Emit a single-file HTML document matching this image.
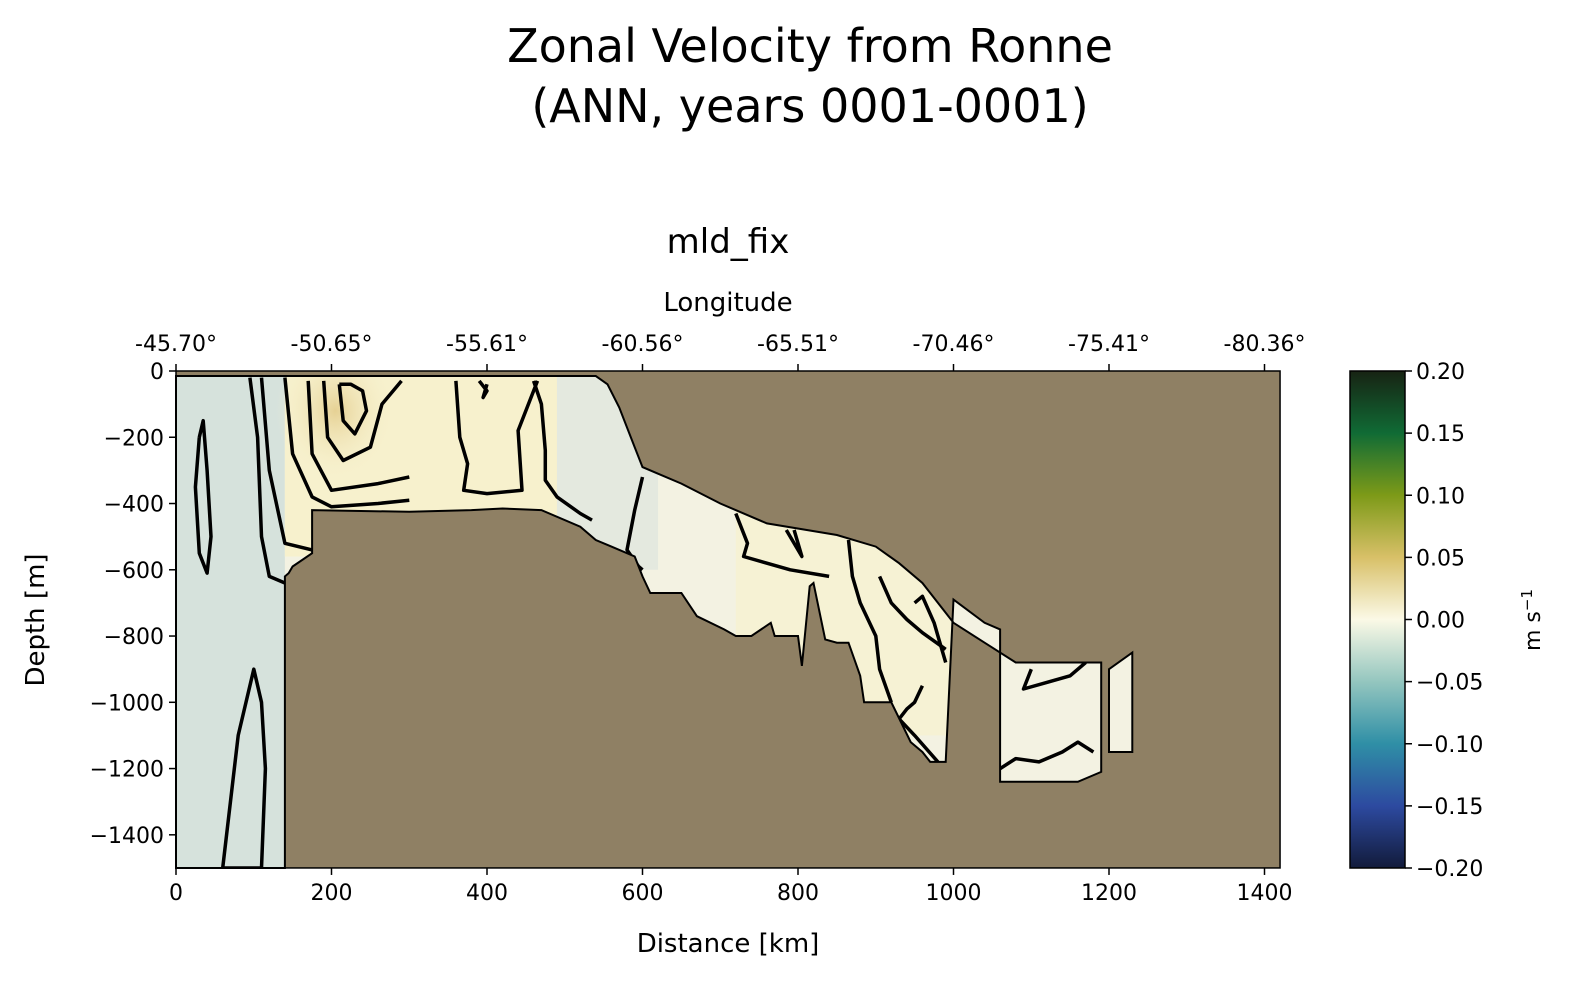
<!DOCTYPE html>
<html><head><meta charset="utf-8"><style>
html,body{margin:0;padding:0;background:#fff;overflow:hidden;width:1586px;height:990px;}
svg{display:block;}
svg text{font-family:"DejaVu Sans","Liberation Sans",sans-serif;fill:#000;}
</style></head><body>
<svg id="chart" width="1586" height="990" viewBox="0 0 1586 990" xmlns="http://www.w3.org/2000/svg">
<defs>
<linearGradient id="cbar" x1="0" y1="1" x2="0" y2="0">
<stop offset="0" stop-color="#121b3b"/><stop offset="0.125" stop-color="#2d4aa0"/>
<stop offset="0.25" stop-color="#2f8fa6"/><stop offset="0.375" stop-color="#94c6bf"/>
<stop offset="0.5" stop-color="#fbf9e6"/><stop offset="0.625" stop-color="#d8c068"/>
<stop offset="0.75" stop-color="#7d9a18"/><stop offset="0.875" stop-color="#106b35"/>
<stop offset="1" stop-color="#172313"/></linearGradient>
<radialGradient id="core" cx="0.5" cy="0.5" r="0.5"><stop offset="0" stop-color="#e6d194"/><stop offset="1" stop-color="#f7f1cf" stop-opacity="0"/></radialGradient>
<clipPath id="waterclip"><path id="wclip"/></clipPath>
</defs>
<text x="810" y="62" font-size="46" text-anchor="middle">Zonal Velocity from Ronne</text>
<text x="810" y="122" font-size="46" text-anchor="middle">(ANN, years 0001-0001)</text>
<text x="728" y="253" font-size="34" text-anchor="middle">mld_fix</text>
<text x="728" y="311" font-size="26" text-anchor="middle">Longitude</text>
<text x="728" y="952" font-size="26" text-anchor="middle">Distance [km]</text>
<text x="44" y="620" font-size="26" text-anchor="middle" transform="rotate(-90 44 620)">Depth [m]</text>
<g id="plot"></g>
<g id="axes"></g>
<rect x="1350" y="371" width="55" height="497" fill="url(#cbar)" stroke="#000" stroke-width="1.5"/>
<g id="cbticks"></g>
<text x="1540" y="620" font-size="22" text-anchor="middle" transform="rotate(-90 1540 620)">m s<tspan dy="-8" font-size="15">−1</tspan></text>
</svg>
<script>
const xTicks=[0,200,400,600,800,1000,1200,1400];
const yTicks=[0,-200,-400,-600,-800,-1000,-1200,-1400];
const lonLabels=["-45.70°","-50.65°","-55.61°","-60.56°","-65.51°","-70.46°","-75.41°","-80.36°"];
const cbTicks=[0.20,0.15,0.10,0.05,0.00,-0.05,-0.10,-0.15,-0.20];
const iceDist=[0,540,555,570,590,600,620,650,700,760,850,900,930,960,1000,1040,1080,1190];
const iceDepth=[-15,-15,-40,-110,-230,-290,-310,-340,-400,-460,-495,-530,-580,-640,-760,-820,-880,-880];
const bedDist=[1190,1190,1160,1060,1060,1040,1000,990,970,960,945,920,885,880,865,850,835,820,815,805,800,790,770,765,740,720,705,670,650,610,600,590,560,540,520,470,420,380,300,175,175,150,145,140,140,0];
const bedDepth=[-880,-1210,-1240,-1240,-780,-760,-690,-1180,-1180,-1150,-1120,-1000,-1000,-920,-820,-820,-810,-640,-650,-890,-800,-800,-800,-760,-800,-800,-780,-740,-670,-670,-620,-560,-530,-510,-470,-420,-415,-420,-425,-420,-550,-590,-610,-620,-1500,-1500];
const pieceDist=[1200,1230,1230,1200];
const pieceDepth=[-900,-850,-1150,-1150];
const contours=[
 {d:[30,35,40,45,40,30,25,30],z:[-200,-150,-300,-500,-610,-550,-350,-200]},
 {d:[60,80,100,110,115,110,80,60],z:[-1500,-1100,-900,-1000,-1200,-1500,-1500,-1500]},
 {d:[95,105,110,120,140],z:[-20,-200,-500,-620,-640]},
 {d:[110,120,140,175],z:[-20,-300,-520,-540]},
 {d:[140,150,175,200,260,300],z:[-20,-250,-380,-410,-400,-390]},
 {d:[170,175,200,260,300],z:[-30,-250,-360,-340,-320]},
 {d:[190,195,215,250,265,290],z:[-30,-200,-270,-230,-100,-30]},
 {d:[210,215,230,245,240,225,210],z:[-40,-150,-190,-120,-60,-40,-40]},
 {d:[360,365,375,370,400,445,440,465],z:[-30,-200,-280,-360,-370,-360,-180,-30]},
 {d:[390,400,395,400],z:[-30,-60,-80,-40]},
 {d:[460,470,475,475,490,520,535],z:[-30,-100,-240,-330,-380,-430,-450]},
 {d:[600,590,580,595,600],z:[-320,-420,-540,-590,-600]},
 {d:[720,735,730,760,790,840],z:[-430,-520,-560,-580,-600,-620]},
 {d:[785,800,805,800,795],z:[-480,-540,-560,-520,-480]},
 {d:[865,870,880,900,905,920],z:[-510,-620,-700,-800,-900,-1000]},
 {d:[905,920,940,960,990],z:[-620,-700,-750,-790,-840]},
 {d:[950,960,975,985,990],z:[-700,-680,-760,-840,-880]},
 {d:[960,950,940,930,950,980],z:[-950,-1000,-1020,-1050,-1100,-1180]},
 {d:[1060,1080,1110,1140,1160,1180],z:[-1200,-1170,-1180,-1150,-1120,-1150]},
 {d:[1100,1090,1120,1150,1170],z:[-900,-960,-940,-920,-880]}
];
const X0=176,XK=0.7775,Y0=371,YK=0.3313;
function sx(d){return X0+d*XK;}
function sy(z){return Y0-z*YK;}
const NS="http://www.w3.org/2000/svg";
function mk(tag,attrs,parent){const e=document.createElementNS(NS,tag);for(const k in attrs)e.setAttribute(k,attrs[k]);parent.appendChild(e);return e;}
function pathFrom(ds,zs,close){let s="";for(let i=0;i<ds.length;i++)s+=(i?"L":"M")+sx(ds[i]).toFixed(1)+","+sy(zs[i]).toFixed(1);return s+(close?"Z":"");}
const plot=document.getElementById("plot");
const pLeft=sx(0),pRight=sx(1420),pTop=sy(0),pBot=sy(-1500);
const land=mk("rect",{x:pLeft,y:pTop,width:pRight-pLeft,height:pBot-pTop,fill:"#8f8064"},plot);


const wd=pathFrom(iceDist.concat(bedDist),iceDepth.concat(bedDepth),true)+pathFrom(pieceDist,pieceDepth,true);
document.getElementById("wclip").setAttribute("d",wd);
const wg=mk("g",{"clip-path":"url(#waterclip)"},plot);


mk("rect",{x:pLeft,y:pTop,width:pRight-pLeft,height:pBot-pTop,fill:"#f3f2e2"},wg);
mk("rect",{x:pLeft,y:pTop,width:sx(140)-pLeft,height:pBot-pTop,fill:"#d6e2dc"},wg);
mk("rect",{x:sx(140),y:pTop,width:sx(560)-sx(140),height:sy(-560)-pTop,fill:"#f7f1cd"},wg);
mk("rect",{x:sx(490),y:pTop,width:sx(620)-sx(490),height:sy(-600)-pTop,fill:"#e4e9df"},wg);
mk("rect",{x:sx(720),y:sy(-420),width:sx(1000)-sx(720),height:sy(-1100)-sy(-420),fill:"#f6f2d4"},wg);
mk("ellipse",{cx:sx(205),cy:sy(-120),rx:60,ry:70,fill:"url(#core)"},wg);
const border=mk("path",{d:wd,fill:"none",stroke:"#000","stroke-width":2},plot);


contours.forEach((c,i)=>{
 const p=mk("path",{d:pathFrom(c.d,c.z,false),fill:"none",stroke:"#000","stroke-width":3.5,"stroke-linejoin":"round","clip-path":"url(#waterclip)"},plot);
 
 
});
const axes=document.getElementById("axes");
mk("rect",{x:pLeft,y:pTop,width:pRight-pLeft,height:pBot-pTop,fill:"none",stroke:"#000","stroke-width":1.5},axes);
xTicks.forEach((t,i)=>{
 const x=sx(t);
 mk("line",{x1:x,x2:x,y1:pBot,y2:pBot+7,stroke:"#000","stroke-width":1.5},axes);
 const tl=mk("text",{x:x,y:pBot+32,"font-size":22,"text-anchor":"middle"},axes);tl.textContent=t;
 
 
 mk("line",{x1:x,x2:x,y1:pTop,y2:pTop-7,stroke:"#000","stroke-width":1.5},axes);
 const ll=mk("text",{x:x,y:pTop-20,"font-size":22,"text-anchor":"middle"},axes);ll.textContent=lonLabels[i];
 
 
});
yTicks.forEach(t=>{
 const y=sy(t);
 mk("line",{x1:pLeft,x2:pLeft-7,y1:y,y2:y,stroke:"#000","stroke-width":1.5},axes);
 const tl=mk("text",{x:pLeft-12,y:y+8,"font-size":22,"text-anchor":"end"},axes);tl.textContent=t<0?"−"+(-t):t;
 
 
});
const cb=document.getElementById("cbticks");
cbTicks.forEach(v=>{
 const y=371+(0.2-v)/0.4*497;
 mk("line",{x1:1405,x2:1412,y1:y,y2:y,stroke:"#000","stroke-width":1.5},cb);
 const tl=mk("text",{x:1416,y:y+8,"font-size":22},cb);tl.textContent=(v<0?"−":"")+Math.abs(v).toFixed(2);
 
 
});
</script>
</body></html>
